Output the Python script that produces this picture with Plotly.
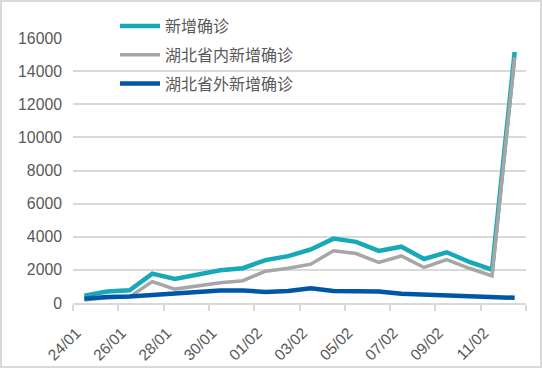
import plotly.graph_objects as go

dates = ["24/01", "25/01", "26/01", "27/01", "28/01", "29/01", "30/01", "31/01",
         "01/02", "02/02", "03/02", "04/02", "05/02", "06/02", "07/02", "08/02",
         "09/02", "10/02", "11/02", "12/02"]
total_new = [444, 688, 769, 1771, 1459, 1737, 1982, 2102, 2590, 2829, 3235, 3887,
             3694, 3143, 3399, 2656, 3062, 2478, 2015, 15152]
hubei_new = [180, 323, 371, 1291, 840, 1032, 1220, 1347, 1921, 2103, 2345, 3156,
             2987, 2447, 2841, 2147, 2618, 2097, 1638, 14840]
outside_new = [264, 365, 398, 480, 619, 705, 762, 755, 669, 726, 890, 731,
               707, 696, 558, 509, 444, 381, 377, 312]
y_ticks = [0, 2000, 4000, 6000, 8000, 10000, 12000, 14000, 16000]

series = [
    ("新增确诊", total_new, "#17A9B7", 4.5),
    ("湖北省内新增确诊", hubei_new, "#A6A6A6", 3.5),
    ("湖北省外新增确诊", outside_new, "#0056A6", 4.5),
]

fig = go.Figure()
for i, (name, vals, color, w) in enumerate(series):
    fig.add_trace(go.Scatter(x=dates, y=vals, name=name, mode="lines", legendgroup=f"g{i}",
                             line=dict(color=color, width=w)))

W, H = 542, 368
L, R, T, B = 73, 16, 38, 65
pw, ph = W - L - R, H - T - B

fig.update_layout(
    width=W, height=H,
    margin=dict(l=L, r=R, t=T, b=B, autoexpand=False),
    paper_bgcolor="white", plot_bgcolor="white",
    font=dict(family="Liberation Sans, Arial, Noto Sans CJK SC", size=16, color="#595959"),
    showlegend=True,
    legend=dict(x=(115 - L) / pw, y=(H - B - 9) / ph, xanchor="left", yanchor="top",
                bgcolor="rgba(0,0,0,0)", traceorder="grouped", itemwidth=40,
                font=dict(family="Noto Sans CJK SC", size=16, color="#595959"),
                tracegroupgap=5),
    xaxis=dict(type="category", categoryorder="array", categoryarray=dates,
               range=[-0.5, len(dates) - 0.5], tickmode="linear", dtick=2, tick0=0,
               tickson="boundaries", ticks="outside", ticklen=6, tickcolor="#D9D9D9",
               tickwidth=1.5, showline=True, linecolor="#D9D9D9", linewidth=1.5,
               showgrid=False, tickangle=-45, ticklabelstandoff=13, ticklabelshift=-8,
               tickfont=dict(size=15.5, color="#595959")),
    yaxis=dict(range=[0, 16000], tickvals=y_ticks, ticktext=[str(v) for v in y_ticks],
               showgrid=True, gridcolor="#D9D9D9", gridwidth=1.5, zeroline=False,
               showline=False, ticks="", ticklabelstandoff=10,
               tickfont=dict(size=15.8, color="#595959")),
    shapes=[dict(type="rect", xref="paper", yref="paper",
                 x0=(1 - L) / pw, x1=(W - 1 - L) / pw,
                 y0=(H - B - (H - 1)) / ph, y1=(H - B - 1) / ph,
                 line=dict(color="#D9D9D9", width=2), fillcolor="rgba(0,0,0,0)", layer="above")],
)

fig.write_html("out.html", config={"displayModeBar": False},
               post_script="document.body.style.margin='0px';document.body.style.overflow='hidden';")
